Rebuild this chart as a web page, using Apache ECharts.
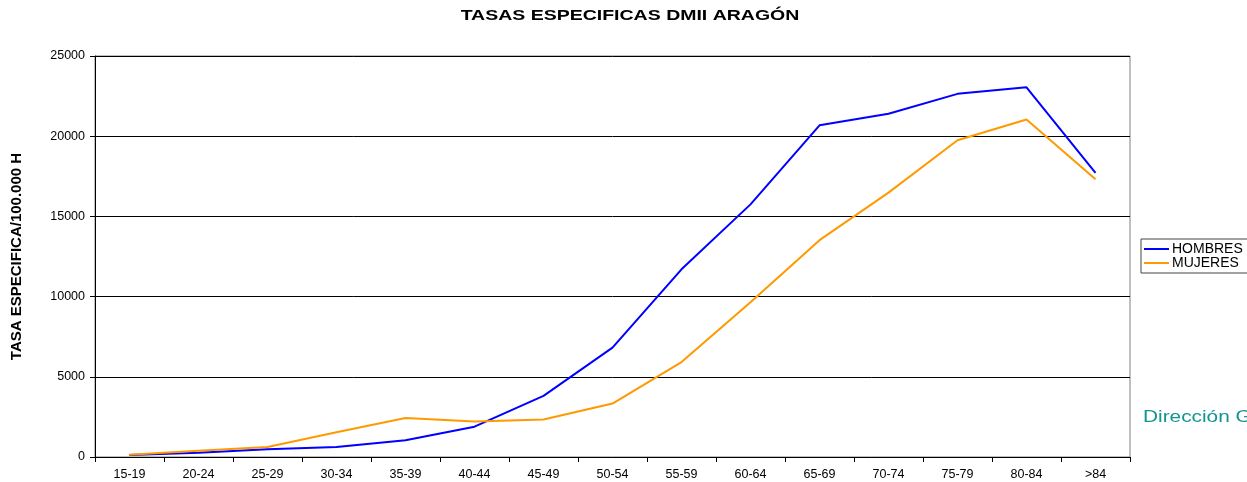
<!DOCTYPE html>
<html>
<head>
<meta charset="utf-8">
<script src="https://cdn.jsdelivr.net/npm/echarts@6/dist/echarts.min.js"></script>
<style>
html,body{margin:0;padding:0;background:#fff;}
#c{width:1247px;height:482px;}
</style>
</head>
<body>
<div id="c"></div>
<script>
var categories = ['15-19','20-24','25-29','30-34','35-39','40-44','45-49','50-54','55-59','60-64','65-69','70-74','75-79','80-84','>84'];
var hombres = [125, 270, 480, 620, 1040, 1890, 3810, 6820, 11700, 15750, 20680, 21400, 22640, 23050, 17720];
var mujeres = [145, 390, 620, 1540, 2430, 2220, 2340, 3330, 5920, 9650, 13520, 16480, 19750, 21040, 17320];
var yTicks = [0, 5000, 10000, 15000, 20000, 25000];

var chart = echarts.init(document.getElementById('c'), null, {renderer: 'canvas'});
var font = '"Liberation Sans", Arial, sans-serif';
chart.setOption({
  animation: false,
  backgroundColor: '#fff',
  textStyle: {fontFamily: font},
  legend: {
    orient: 'vertical',
    left: 1141, top: 239,
    padding: [3, 8, 3, 3],
    itemGap: 0,
    itemWidth: 25, itemHeight: 2,
    icon: 'rect',
    borderColor: '#444', borderWidth: 1,
    textStyle: {fontFamily: font, fontSize: 14, color: '#000', padding: [0, 0, 0, -2]},
    data: ['HOMBRES', 'MUJERES']
  },
  graphic: [{
    type: 'text', x: 630, y: 16, scaleX: 1.3,
    style: {text: 'TASAS ESPECIFICAS DMII ARAGÓN', fill: '#000', font: 'bold 15px ' + font, align: 'center', verticalAlign: 'middle'}
  }, {
    type: 'text', x: 1143, y: 418, scaleX: 1.3,
    style: {text: 'Dirección General', fill: '#139393', font: '16px ' + font, align: 'left', verticalAlign: 'middle'}
  }],
  grid: {left: 95, right: 117, top: 56, bottom: 25, show: true, borderColor: '#808080', borderWidth: 1, backgroundColor: 'transparent'},
  xAxis: {
    type: 'category',
    data: categories,
    boundaryGap: true,
    axisLine: {lineStyle: {color: '#000', width: 1}},
    axisTick: {show: true, length: 5, lineStyle: {color: '#000'}},
    axisLabel: {fontFamily: font, fontSize: 12.5, color: '#000', margin: 11}
  },
  yAxis: {
    type: 'value',
    min: yTicks[0], max: yTicks[yTicks.length - 1], interval: 5000,
    name: 'TASA ESPECIFICA/100.000 H',
    nameLocation: 'middle', nameGap: 71,
    nameTextStyle: {fontFamily: font, fontSize: 15, fontWeight: 'bold', color: '#000'},
    axisLine: {show: true, lineStyle: {color: '#000', width: 1}},
    axisTick: {show: true, length: 5, lineStyle: {color: '#000'}},
    axisLabel: {fontFamily: font, fontSize: 12.5, color: '#000', margin: 10, formatter: function (v) { return String(v); }},
    splitLine: {show: true, lineStyle: {color: '#000', width: 1}}
  },
  series: [{
    name: 'HOMBRES', type: 'line', data: hombres,
    showSymbol: false, symbol: 'none',
    lineStyle: {color: '#0000FF', width: 2},
    itemStyle: {color: '#0000FF'}
  }, {
    name: 'MUJERES', type: 'line', data: mujeres,
    showSymbol: false, symbol: 'none',
    lineStyle: {color: '#FF9900', width: 2},
    itemStyle: {color: '#FF9900'}
  }]
});
</script>
</body>
</html>
